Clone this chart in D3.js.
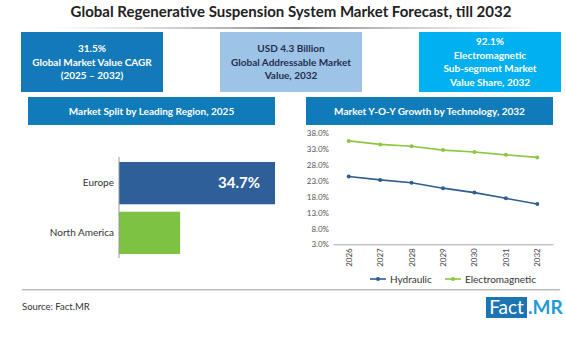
<!DOCTYPE html>
<html>
<head>
<meta charset="utf-8">
<script src="https://d3js.org/d3.v7.min.js"></script>
<style>
  body { margin: 0; background: #fff; }
  svg { display: block; font-family: Lato, "Open Sans", sans-serif; }
</style>
</head>
<body>
<svg id="chart" width="566" height="339"></svg>
<script>
  // ---- data ----
  const regions = ["Europe", "North America"];
  const regionShare = [34.7, 13.6];

  const years = ["2026", "2027", "2028", "2029", "2030", "2031", "2032"];
  const hydraulic = [24.4, 23.3, 22.4, 20.7, 19.3, 17.5, 15.7];
  const electromagnetic = [35.6, 34.5, 33.9, 32.7, 32.1, 31.2, 30.4];
  const yTicks = [3, 8, 13, 18, 23, 28, 33, 38];

  const kpis = [
    { lines: ["31.5%", "Global Market Value CAGR", "(2025 – 2032)"], fill: "#1479b8", ink: "#fff" },
    { lines: ["USD 4.3 Billion", "Global Addressable Market", "Value, 2032"], fill: "#9dc3e6", ink: "#1f2f4f" },
    { lines: ["92.1%", "Electromagnetic", "Sub-segment Market", "Value Share, 2032"], fill: "#00b0f0", ink: "#fff" }
  ];

  const svg = d3.select("#chart");

  // title
  svg.append("text")
    .attr("x", 291).attr("y", 17)
    .attr("text-anchor", "middle")
    .style("font-size", "15px").style("font-weight", "bold").attr("fill", "#222")
    .text("Global Regenerative Suspension System Market Forecast, till 2032");

  const grad = svg.append("defs").append("linearGradient").attr("id", "fade");
  grad.append("stop").attr("offset", "0%").attr("stop-color", "#bbb").attr("stop-opacity", 0);
  grad.append("stop").attr("offset", "50%").attr("stop-color", "#888").attr("stop-opacity", 1);
  grad.append("stop").attr("offset", "100%").attr("stop-color", "#bbb").attr("stop-opacity", 0);
  svg.append("rect").attr("x", 50).attr("y", 27).attr("width", 490).attr("height", 2).attr("fill", "url(#fade)");

  // kpi boxes
  const boxX = d3.scalePoint().domain(d3.range(kpis.length)).range([21, 419]);
  const boxes = svg.selectAll(".kpi").data(kpis).enter().append("g")
    .attr("transform", (d, i) => `translate(${boxX(i)},32)`);
  boxes.append("rect").attr("width", 142).attr("height", 60).attr("fill", d => d.fill);
  boxes.each(function (d) {
    const n = d.lines.length;
    d3.select(this).selectAll("text").data(d.lines).enter().append("text")
      .attr("x", 71)
      .attr("y", (t, j) => 30 + (j - (n - 1) / 2) * 13.4 + 3.5)
      .attr("text-anchor", "middle")
      .style("font-size", "10px").style("font-weight", "bold")
      .attr("fill", d.ink)
      .text(t => t);
  });

  // section headers
  const headers = [
    { x: 28, text: "Market Split by Leading Region, 2025" },
    { x: 306, text: "Market Y-O-Y Growth by Technology, 2032" }
  ];
  const hd = svg.selectAll(".hdr").data(headers).enter().append("g")
    .attr("transform", d => `translate(${d.x},97)`);
  hd.append("rect").attr("width", 247).attr("height", 28).attr("fill", "#0f7bb8");
  hd.append("text").attr("x", 123.5).attr("y", 17.5).attr("text-anchor", "middle")
    .style("font-size", "10px").style("font-weight", "bold").attr("fill", "#fff")
    .text(d => d.text);

  // ---- bar chart ----
  const bx = d3.scaleLinear().domain([0, 34.7]).range([119, 275]);
  const by = d3.scaleBand().domain(regions).range([159, 257]).paddingInner(0.15).paddingOuter(0.06);
  const barColors = ["#2f5f98", "#7dc242"];

  svg.selectAll(".bar").data(regions).enter().append("rect")
    .attr("x", bx(0)).attr("y", d => by(d))
    .attr("width", (d, i) => bx(regionShare[i]) - bx(0))
    .attr("height", by.bandwidth())
    .attr("fill", (d, i) => barColors[i]);

  svg.append("g").attr("transform", `translate(${bx(0)},0)`)
    .call(d3.axisLeft(by).tickSize(0).tickPadding(5))
    .call(g => g.select(".domain").attr("stroke", "#999").attr("d", "M0,157V258"))
    .call(g => g.selectAll("text").style("font-size", "10px").style("font-family", "Lato, sans-serif").attr("fill", "#333"));

  svg.append("text")
    .attr("x", bx(regionShare[0]) - 15).attr("y", by(regions[0]) + by.bandwidth() / 2 + 5)
    .attr("text-anchor", "end")
    .style("font-size", "15px").style("font-weight", "bold").attr("fill", "#fff")
    .text(regionShare[0].toFixed(1) + "%");

  // ---- line chart ----
  const lx = d3.scalePoint().domain(years).range([333, 553]).padding(0.5);
  const ly = d3.scaleLinear().domain([3, 38]).range([244.3, 133.3]);

  svg.append("g").attr("transform", "translate(333,0)")
    .call(d3.axisLeft(ly).tickValues(yTicks).tickFormat(v => v.toFixed(1) + "%").tickSize(0).tickPadding(4))
    .call(g => g.select(".domain").remove())
    .call(g => g.selectAll("text").style("font-size", "8px").style("font-family", "Lato, sans-serif").attr("fill", "#555"));

  svg.append("g").attr("transform", `translate(0,${ly(3)})`)
    .call(d3.axisBottom(lx).tickSize(0).tickPadding(4))
    .call(g => g.select(".domain").attr("stroke", "#aaa"))
    .call(g => g.selectAll("text")
      .style("font-size", "8px").style("font-family", "Lato, sans-serif").attr("fill", "#444")
      .attr("transform", "rotate(-90)")
      .attr("text-anchor", "end")
      .attr("x", -4).attr("y", 0).attr("dy", "0.32em"));

  const series = [
    { name: "Hydraulic", values: hydraulic, color: "#2e5d8f" },
    { name: "Electromagnetic", values: electromagnetic, color: "#8dc63f" }
  ];
  const line = d3.line().x((v, i) => lx(years[i])).y(v => ly(v));

  series.forEach(s => {
    svg.append("path").datum(s.values).attr("d", line)
      .attr("fill", "none").attr("stroke", s.color).attr("stroke-width", 1.6);
    svg.selectAll(null).data(s.values).enter().append("circle")
      .attr("cx", (v, i) => lx(years[i])).attr("cy", v => ly(v)).attr("r", 2)
      .attr("fill", s.color);
  });

  // legend
  const legendX = [370, 445];
  const lg = svg.selectAll(".lg").data(series).enter().append("g")
    .attr("transform", (d, i) => `translate(${legendX[i]},279)`);
  lg.append("line").attr("x1", 0).attr("x2", 16).attr("stroke", d => d.color).attr("stroke-width", 1.6);
  lg.append("circle").attr("cx", 8).attr("r", 2).attr("fill", d => d.color);
  lg.append("text").attr("x", 20).attr("y", 3.5)
    .style("font-size", "10px").attr("fill", "#333").text(d => d.name);

  // footer
  svg.append("rect").attr("x", 22).attr("y", 289).attr("width", 538).attr("height", 1.5).attr("fill", "#bbb");
  svg.append("text").attr("x", 22).attr("y", 310)
    .style("font-size", "9.5px").attr("fill", "#333").text("Source: Fact.MR");

  const logo = svg.append("g").attr("transform", "translate(486,297)");
  logo.append("rect").attr("width", 41).attr("height", 21).attr("fill", "#1b75b3");
  logo.append("text").attr("x", 20.5).attr("y", 17).attr("text-anchor", "middle")
    .style("font-size", "19px").attr("fill", "#fff").text("Fact");
  logo.append("text").attr("x", 42).attr("y", 17)
    .style("font-size", "19px").style("font-weight", "bold").attr("fill", "#1e9ad6").text(".MR");
</script>
</body>
</html>
